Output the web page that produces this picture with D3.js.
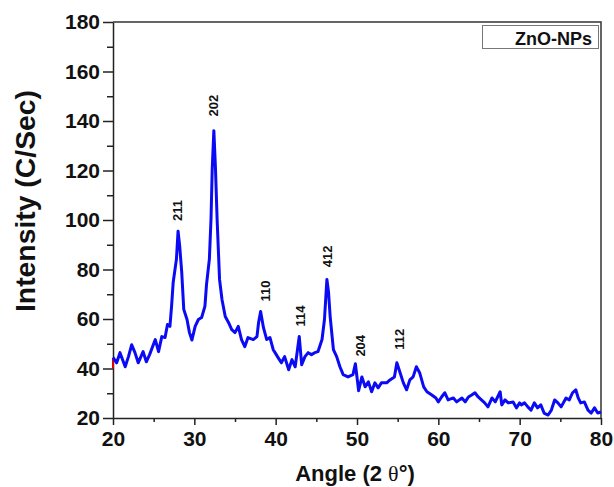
<!DOCTYPE html>
<meta charset="utf-8">
<style>
  body { margin: 0; background: #fff; }
  text { font-family: "Liberation Sans", Arial, sans-serif; }
</style>
<body>
<script src="https://cdn.jsdelivr.net/npm/d3@7/dist/d3.min.js"></script>
<script>

    // XRD pattern: 2theta (deg) and intensity (C/Sec)
    var angles = [20.0, 20.45, 20.86, 21.5, 21.9, 22.3, 22.7, 23.1, 23.7, 24.1,
        24.5, 25.2, 25.6, 26.0, 26.4, 26.7, 27.0, 27.2, 27.4, 27.8,
        28.0, 28.2, 28.45, 28.7, 29.1, 29.4, 29.7, 30.1, 30.5, 30.9,
        31.3, 31.5, 31.85, 32.05, 32.2, 32.4, 32.6, 32.8, 33.1, 33.4,
        33.8, 34.2, 34.6, 35.0, 35.4, 35.8, 36.2, 36.6, 37.25, 37.7,
        37.9, 38.15, 38.5, 38.9, 39.3, 39.7, 40.0, 40.3, 40.7, 41.1,
        41.6, 42.0, 42.4, 42.9, 43.2, 43.6, 44.0, 44.4, 44.8, 45.2,
        45.7, 46.0, 46.3, 46.5, 46.7, 47.1, 47.5, 47.9, 48.3, 48.9,
        49.5, 49.8, 50.2, 50.6, 51.0, 51.4, 51.8, 52.2, 52.6, 53.0,
        53.65, 54.05, 54.6, 54.9, 55.3, 55.7, 56.1, 56.5, 56.9, 57.3,
        57.7, 58.2, 58.6, 59.2, 59.7, 60.0, 60.4, 60.8, 61.2, 61.85,
        62.25, 62.9, 63.3, 63.7, 64.1, 64.5, 64.9, 65.3, 65.7, 66.1,
        66.6, 67.0, 67.6, 67.8, 68.2, 68.6, 69.2, 69.6, 70.0, 70.2,
        70.6, 71.0, 71.4, 71.8, 72.2, 72.6, 73.0, 73.5, 73.9, 74.3,
        74.7, 75.1, 75.7, 76.1, 76.5, 76.9, 77.2, 77.5, 77.95, 78.4,
        78.8, 79.2, 79.6, 80.0];

    var intensity = [44.5, 42.3, 46.4, 40.7, 44.8, 49.6, 46.4, 42.3, 46.8, 42.7,
        45.6, 51.7, 46.8, 52.9, 52.5, 57.8, 57.0, 65.1, 74.8, 84.2,
        95.5, 89.4, 78.9, 63.9, 59.8, 54.5, 51.5, 57.0, 59.8, 60.6,
        65.1, 74.0, 84.2, 100.4, 120.7, 136.1, 120.7, 100.4, 76.0, 67.9,
        61.0, 58.6, 55.7, 54.5, 57.0, 51.7, 48.8, 52.5, 51.7, 52.9,
        58.6, 63.0, 56.5, 51.7, 52.5, 47.6, 46.0, 44.4, 42.3, 44.8,
        39.5, 43.6, 40.7, 52.9, 41.5, 44.8, 46.4, 45.6, 46.4, 46.8,
        51.7, 59.8, 76.0, 70.8, 61.0, 47.6, 44.8, 40.7, 37.5, 36.6,
        37.5, 41.9, 31.0, 36.6, 32.6, 34.6, 30.6, 34.2, 32.2, 34.2,
        34.2, 35.4, 36.6, 42.3, 38.3, 34.2, 31.4, 35.4, 36.6, 40.7,
        38.3, 32.6, 30.6, 29.3, 28.1, 26.5, 28.5, 30.2, 27.3, 28.1,
        26.5, 28.1, 26.5, 28.5, 29.3, 30.2, 28.5, 27.3, 26.1, 24.5,
        28.1, 26.5, 30.6, 25.3, 27.3, 26.1, 26.5, 24.1, 26.1, 25.3,
        26.1, 24.5, 23.2, 26.1, 24.1, 25.3, 22.0, 21.2, 23.2, 27.3,
        26.1, 24.5, 28.1, 27.3, 30.2, 31.4, 28.1, 26.1, 26.5, 23.2,
        22.0, 24.1, 22.0, 22.4];

    // short red trace visible at the left edge
    var redAngles = [20.0, 20.0];
    var redIntensity = [44.0, 40.0];

    // peak (hkl) labels: angle and intensity at the foot of each label
    var hklLabels = ["211", "202", "110", "114", "412", "204", "112"];
    var hklAngles = [27.87, 32.3, 38.7, 43.0, 46.3, 50.4, 55.2];
    var hklIntensity = [99.6, 141.8, 67.1, 57.0, 80.9, 44.8, 47.6];

    var xTicks = [20, 30, 40, 50, 60, 70, 80];
    var yTicks = [20, 40, 60, 80, 100, 120, 140, 160, 180];
    var legendLabel = "ZnO-NPs";

    var w = 614, h = 487;
    var margin = {top: 22, right: 13, bottom: 69, left: 113};

    var svg = d3.select("body")
            .append("svg")
            .attr("width", w)
            .attr("height", h);

    var x = d3.scaleLinear().domain([20, 80]).range([margin.left, w - margin.right]);
    var y = d3.scaleLinear().domain([20, 180]).range([h - margin.bottom, margin.top]);

    // minor ticks first
    svg.append("g")
            .attr("transform", "translate(0," + y(20) + ")")
            .call(d3.axisBottom(x).tickValues(d3.range(25, 80, 10)).tickSize(4).tickFormat(""))
            .call(function(g) { g.select(".domain").remove(); })
            .selectAll("line").attr("stroke", "#222").attr("stroke-width", 1.5);

    svg.append("g")
            .attr("transform", "translate(" + x(20) + ",0)")
            .call(d3.axisLeft(y).tickValues(d3.range(30, 180, 20)).tickSize(6).tickFormat(""))
            .call(function(g) { g.select(".domain").remove(); })
            .selectAll("line").attr("stroke", "#222").attr("stroke-width", 1.5);

    // major axes
    var xAxis = svg.append("g")
            .attr("transform", "translate(0," + y(20) + ")")
            .call(d3.axisBottom(x).tickValues(xTicks).tickSize(7).tickSizeOuter(0).tickPadding(6));

    var yAxis = svg.append("g")
            .attr("transform", "translate(" + x(20) + ",0)")
            .call(d3.axisLeft(y).tickValues(yTicks).tickSize(10).tickSizeOuter(0).tickPadding(3));

    [xAxis, yAxis].forEach(function(g) {
        g.selectAll("line, path").attr("stroke", "#222").attr("stroke-width", 1.5);
        g.selectAll("text")
                .attr("fill", "#111")
                .style("font-family", "'Liberation Sans', Arial, sans-serif")
                .style("font-size", "21px")
                .style("font-weight", "bold");
    });

    // top and right frame
    svg.append("path")
            .attr("d", "M" + x(20) + "," + y(180) + "H" + x(80) + "V" + y(20))
            .attr("fill", "none")
            .attr("stroke", "#333")
            .attr("stroke-width", 1.5);

    var line = d3.line()
            .x(function(d) { return x(d[0]); })
            .y(function(d) { return y(d[1]); });

    svg.append("path")
            .datum(d3.zip(redAngles, redIntensity))
            .attr("d", line)
            .attr("fill", "none")
            .attr("stroke", "#e00000")
            .attr("stroke-width", 2);

    svg.append("path")
            .datum(d3.zip(angles, intensity))
            .attr("d", line)
            .attr("fill", "none")
            .attr("stroke", "#0a0af5")
            .attr("stroke-width", 3)
            .attr("stroke-linejoin", "round");

    // hkl labels
    svg.selectAll(".hkl")
            .data(d3.range(hklLabels.length))
            .enter()
            .append("text")
            .attr("class", "hkl")
            .attr("transform", function(i) {
                return "translate(" + x(hklAngles[i]) + "," + y(hklIntensity[i]) + ") rotate(-90)";
            })
            .attr("dy", "0.36em")
            .attr("fill", "#111")
            .style("font-size", "13px")
            .style("font-weight", "bold")
            .text(function(i) { return hklLabels[i]; });

    // legend box
    svg.append("rect")
            .attr("x", 482.5)
            .attr("y", 25.5)
            .attr("width", 116)
            .attr("height", 23)
            .attr("fill", "#fff")
            .attr("stroke", "#777")
            .attr("stroke-width", 1);

    svg.append("text")
            .attr("x", 592)
            .attr("y", 45)
            .attr("text-anchor", "end")
            .attr("fill", "#111")
            .style("font-size", "18px")
            .style("font-weight", "bold")
            .text(legendLabel);

    // axis titles
    var xt = svg.append("text")
            .attr("x", 355)
            .attr("y", 481)
            .attr("text-anchor", "middle")
            .attr("fill", "#111")
            .style("font-size", "22px")
            .style("font-weight", "bold");
    xt.append("tspan").text("Angle (2 ");
    xt.append("tspan")
            .style("font-family", "'Liberation Serif', 'DejaVu Serif', serif")
            .style("font-weight", "normal")
            .text("\u03b8");
    xt.append("tspan").text("\u00b0)");

    svg.append("text")
            .attr("transform", "translate(35,201) rotate(-90)")
            .attr("text-anchor", "middle")
            .attr("fill", "#111")
            .attr("textLength", 222)
            .attr("lengthAdjust", "spacingAndGlyphs")
            .style("font-size", "28px")
            .style("font-weight", "bold")
            .text("Intensity (C/Sec)");

</script>
